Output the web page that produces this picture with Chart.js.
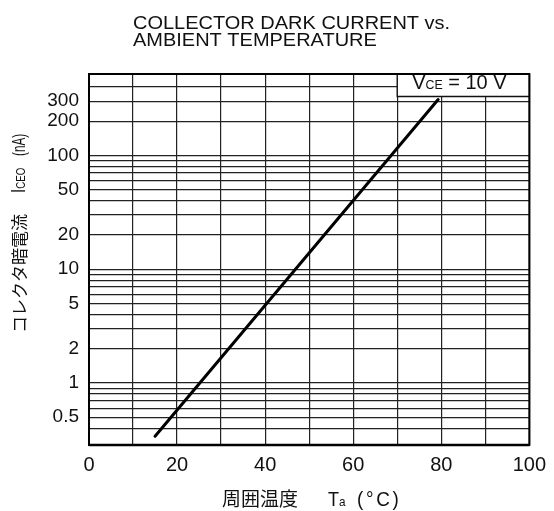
<!DOCTYPE html>
<html lang="ja">
<head>
<meta charset="UTF-8">
<title>Collector dark current vs. ambient temperature</title>
<script src="https://cdn.jsdelivr.net/npm/chart.js"></script>
<style>
  html, body { margin: 0; padding: 0; background: #fff; }
  #wrap { width: 554px; height: 511px; }
</style>
</head>
<body>
<div id="wrap"><canvas id="chart" width="554" height="511"></canvas></div>
<script>
// data
const temps = [15, 79.3];          // Ta (°C), line end points
const iceo = [0.34, 310];          // ICEO (nA)
const yGrid = [0.4, 0.5, 0.6, 0.7, 0.8, 0.9, 1, 2, 3, 4, 5, 6, 7, 8, 9,
               10, 20, 30, 40, 50, 60, 70, 80, 90, 100, 200, 300, 400];
const yLabels = [0.5, 1, 2, 5, 10, 20, 50, 100, 200, 300];
const xLabels = [0, 20, 40, 60, 80, 100];

const SANS = '"Liberation Sans", Arial, Helvetica, sans-serif';
const CJK = '"Noto Sans CJK JP", "Noto Sans", sans-serif';

// draw a row of text pieces one after the other; sx squeezes along the text
function runs(ctx, x, y, parts, sx) {
  sx = sx || 1;
  parts.forEach(p => {
    ctx.save();
    ctx.font = p[1];
    ctx.translate(x, y);
    ctx.scale(sx, 1);
    ctx.fillText(p[0], 0, 0);
    ctx.restore();
    ctx.font = p[1];
    x += ctx.measureText(p[0]).width * sx;
  });
}

const decor = {
  id: 'decor',
  beforeDatasetsDraw(chart) {
    const { ctx, chartArea: a, scales: { x, y } } = chart;
    // VCE = 10 V box in the top right corner
    const bx = x.getPixelForValue(70);
    const by = y.getPixelForValue(330);
    ctx.save();
    ctx.fillStyle = '#fff';
    ctx.fillRect(bx, a.top, a.right - bx, by - a.top);
    ctx.strokeStyle = '#111';
    ctx.lineWidth = 1.4;
    ctx.beginPath();
    ctx.moveTo(bx, a.top);
    ctx.lineTo(bx, by);
    ctx.lineTo(a.right, by);
    ctx.stroke();
    ctx.fillStyle = '#111';
    ctx.textBaseline = 'alphabetic';
    runs(ctx, bx + 15, by - 7, [
      ['V', '21px ' + SANS],
      ['CE', '13px ' + SANS],
      [' = 10 V', '21px ' + SANS]
    ], 0.95);
    ctx.restore();
  },
  afterDraw(chart) {
    const { ctx, chartArea: a } = chart;
    ctx.save();
    ctx.strokeStyle = '#000';
    ctx.lineWidth = 2;
    ctx.strokeRect(a.left, a.top, a.right - a.left, a.bottom - a.top);
    ctx.lineWidth = 2.5;
    ctx.beginPath();
    ctx.moveTo(a.left, a.bottom);
    ctx.lineTo(a.right, a.bottom);
    ctx.stroke();

    ctx.fillStyle = '#111';
    ctx.textBaseline = 'alphabetic';
    // title
    runs(ctx, 133, 29, [['COLLECTOR DARK CURRENT vs.', '18.5px ' + SANS]], 1.08);
    runs(ctx, 133, 46, [['AMBIENT TEMPERATURE', '18.5px ' + SANS]], 1.08);

    // x axis title
    runs(ctx, 222, 506, [['周囲温度', '19px ' + CJK]]);
    runs(ctx, 328, 506, [['T', '20px ' + SANS], ['a', '13px ' + SANS]], 0.9);
    ctx.letterSpacing = '3px';
    runs(ctx, 357, 506, [['(°C)', '21px ' + SANS]], 0.9);
    ctx.letterSpacing = '0px';

    // y axis title, rotated
    ctx.translate(26, 333);
    ctx.rotate(-Math.PI / 2);
    runs(ctx, 0, 0, [['コレクタ暗電流', '17px ' + CJK]]);
    runs(ctx, 140, -1, [['I', '20px ' + SANS], ['CEO', '13px ' + SANS]], 0.75);
    runs(ctx, 177, -1, [['(nA)', '18px ' + SANS]], 0.65);
    ctx.restore();
  }
};

new Chart(document.getElementById('chart'), {
  type: 'line',
  data: {
    datasets: [{
      data: temps.map((t, i) => ({ x: t, y: iceo[i] })),
      borderColor: '#000',
      borderWidth: 3,
      pointRadius: 0,
      tension: 0,
      borderCapStyle: 'round'
    }]
  },
  options: {
    responsive: false,
    animation: false,
    layout: { padding: { top: 74, right: 20, left: 0, bottom: 0 } },
    plugins: { legend: { display: false }, tooltip: { enabled: false } },
    scales: {
      x: {
        type: 'linear',
        min: 0,
        max: 100,
        afterFit: s => { s.height = 66; },
        grid: { color: '#222', lineWidth: 1.2, drawTicks: false },
        border: { display: false },
        ticks: {
          stepSize: 10,
          padding: 8,
          color: '#111',
          font: { family: SANS, size: 20 },
          maxRotation: 0,
          autoSkip: false,
          callback: v => xLabels.includes(v) ? String(v) : ''
        }
      },
      y: {
        type: 'logarithmic',
        min: 0.285,
        max: 520,
        afterFit: s => { s.width = 89; },
        afterBuildTicks: s => { s.ticks = yGrid.map(v => ({ value: v })); },
        grid: { color: '#222', lineWidth: 1.2, drawTicks: false },
        border: { display: false },
        ticks: {
          padding: 10,
          color: '#111',
          font: { family: SANS, size: 19 },
          autoSkip: false,
          callback: v => yLabels.includes(v) ? String(v) : ''
        }
      }
    }
  },
  plugins: [decor]
});
</script>
</body>
</html>
